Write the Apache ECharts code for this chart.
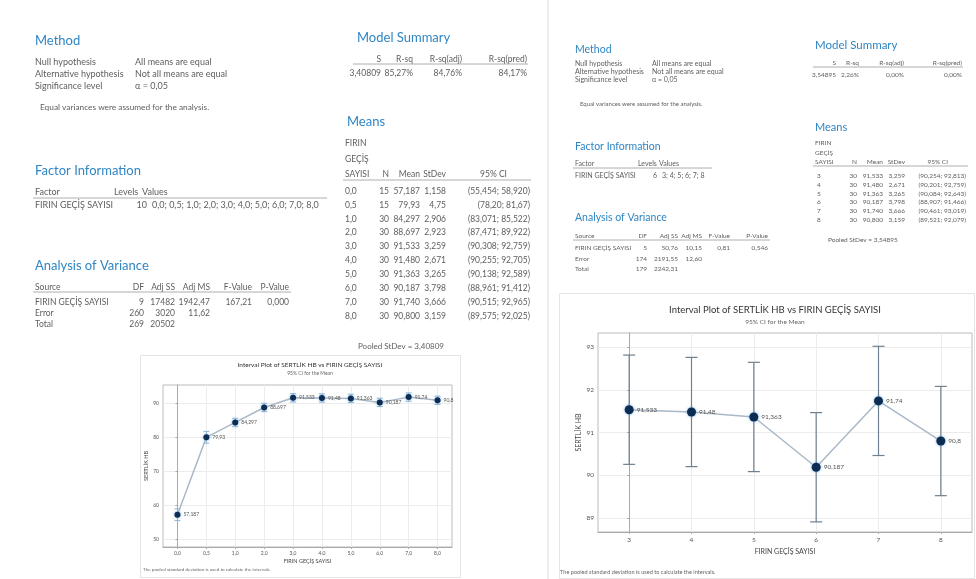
<!DOCTYPE html>
<html>

<head>
  <meta charset="utf-8">
  <title>SERTLİK HB vs FIRIN GEÇİŞ SAYISI</title>
  <script src="https://cdn.jsdelivr.net/npm/echarts@6/dist/echarts.min.js"></script>
  <style>
    html, body { margin: 0; padding: 0; background: #fff; }
  </style>
</head>

<body>
  <div id="chart" style="width: 976px;height:579px;"></div>
  <script>
    // --- left analysis: all levels 0,0 .. 8,0
    const levelsA = ['0,0', '0,5', '1,0', '2,0', '3,0', '4,0', '5,0', '6,0', '7,0', '8,0'];
    const nA = [15, 15, 30, 30, 30, 30, 30, 30, 30, 30];
    const meanA = [57.187, 79.93, 84.297, 88.697, 91.533, 91.480, 91.363, 90.187, 91.740, 90.800];
    const sdA = [1.158, 4.75, 2.906, 2.923, 3.259, 2.671, 3.265, 3.798, 3.666, 3.159];
    const loA = [55.454, 78.20, 83.071, 87.471, 90.308, 90.255, 90.138, 88.961, 90.515, 89.575];
    const hiA = [58.920, 81.67, 85.522, 89.922, 92.759, 92.705, 92.589, 91.412, 92.965, 92.025];
    const yTicksA = [50, 60, 70, 80, 90];
    const anovaA = [
      ['FIRIN GEÇİŞ SAYISI', '9', '17482', '1942,47', '167,21', '0,000'],
      ['Error', '260', '3020', '11,62', '', ''],
      ['Total', '269', '20502', '', '', '']
    ];
    const summaryA = ['3,40809', '85,27%', '84,76%', '84,17%'];

    // --- right analysis: levels 3 .. 8
    const levelsB = ['3', '4', '5', '6', '7', '8'];
    const nB = [30, 30, 30, 30, 30, 30];
    const meanB = [91.533, 91.480, 91.363, 90.187, 91.740, 90.800];
    const sdB = [3.259, 2.671, 3.265, 3.798, 3.666, 3.159];
    const loB = [90.254, 90.201, 90.084, 88.907, 90.461, 89.521];
    const hiB = [92.813, 92.759, 92.643, 91.466, 93.019, 92.079];
    const yTicksB = [89, 90, 91, 92, 93];
    const anovaB = [
      ['FIRIN GEÇİŞ SAYISI', '5', '50,76', '10,15', '0,81', '0,546'],
      ['Error', '174', '2191,55', '12,60', '', ''],
      ['Total', '179', '2242,31', '', '', '']
    ];
    const summaryB = ['3,54895', '2,26%', '0,00%', '0,00%'];

    const F = "Lato, 'Noto Sans', sans-serif";
    const TITLE = '#2f86c4', BODY = '#5e5e5e', RULE = '#9a9a9a';
    const fmt3 = v => v.toFixed(3).replace('.', ',');
    const fmtL = v => String(v).replace('.', ',');
    const fmtCI = (lo, hi, d) => '(' + lo.toFixed(d).replace('.', ',') + '; ' + hi.toFixed(d).replace('.', ',') + ')';

    let g = [];
    function txt(x, y, s, size, opt) {
      opt = opt || {};
      g.push({
        type: 'text', x: x, y: y, silent: true,
        style: {
          text: s, font: (opt.weight || 'normal') + ' ' + size + 'px ' + F, fill: opt.color || BODY,
          align: opt.align || 'left', textAlign: opt.align || 'left',
          verticalAlign: 'middle', textVerticalAlign: 'middle'
        }
      });
    }
    function hline(x1, x2, y, c) {
      g.push({ type: 'line', silent: true, shape: { x1: x1, y1: y, x2: x2, y2: y }, style: { stroke: c || RULE, lineWidth: 0.8 } });
    }
    function box(x, y, w, h, c) {
      g.push({ type: 'rect', silent: true, shape: { x: x, y: y, width: w, height: h }, style: { fill: 'none', stroke: c, lineWidth: 1 } });
    }

    // divider between the two sessions
    g.push({ type: 'line', silent: true, shape: { x1: 548, y1: 0, x2: 548, y2: 579 }, style: { stroke: '#dcdcdc', lineWidth: 1 } });

    // ================= LEFT TEXT =================
    let fs = 9, ft = 13;
    txt(35, 41, 'Method', ft, { color: TITLE });
    txt(35, 62, 'Null hypothesis', fs); txt(135, 62, 'All means are equal', fs);
    txt(35, 74, 'Alternative hypothesis', fs); txt(135, 74, 'Not all means are equal', fs);
    txt(35, 86, 'Significance level', fs); txt(135, 86, 'α = 0,05', fs);
    txt(40, 107, 'Equal variances were assumed for the analysis.', 8.3);

    txt(35, 171, 'Factor Information', ft, { color: TITLE });
    txt(35, 192, 'Factor', fs); txt(114, 192, 'Levels', fs); txt(142, 192, 'Values', fs);
    hline(33, 327, 198);
    txt(35, 205, 'FIRIN GEÇİŞ SAYISI', fs); txt(147, 205, String(levelsA.length), fs, { align: 'right' });
    txt(152, 205, levelsA.join('; '), fs);

    fs = 8.5;
    txt(35, 266, 'Analysis of Variance', ft, { color: TITLE });
    const colA = [144, 175, 210, 252, 289];
    const headA = ['DF', 'Adj SS', 'Adj MS', 'F-Value', 'P-Value'];
    txt(35, 287, 'Source', fs);
    headA.forEach((h, i) => txt(colA[i], 287, h, fs, { align: 'right' }));
    hline(33, 291, 292);
    anovaA.forEach((r, j) => {
      txt(35, 302 + j * 11, r[0], fs);
      for (let i = 1; i < r.length; i++) txt(colA[i - 1], 302 + j * 11, r[i], fs, { align: 'right' });
    });

    txt(357, 38, 'Model Summary', ft, { color: TITLE });
    const colS = [381, 413, 462, 527];
    ['S', 'R-sq', 'R-sq(adj)', 'R-sq(pred)'].forEach((h, i) => txt(colS[i], 59, h, fs, { align: 'right' }));
    hline(353, 528, 64);
    summaryA.forEach((v, i) => txt(colS[i], 73, v, fs, { align: 'right' }));

    txt(347, 122, 'Means', ft, { color: TITLE });
    txt(345, 143, 'FIRIN', fs); txt(345, 159, 'GEÇİŞ', fs); txt(345, 174, 'SAYISI', fs);
    const colM = [389, 420, 446, 530];
    txt(colM[0], 174, 'N', fs, { align: 'right' });
    txt(colM[1], 174, 'Mean', fs, { align: 'right' });
    txt(colM[2], 174, 'StDev', fs, { align: 'right' });
    txt(507, 174, '95% CI', fs, { align: 'right' });
    hline(343, 531, 180);
    levelsA.forEach((lv, i) => {
      const y = 191 + i * 13.9;
      const d = (i === 1) ? 2 : 3;
      txt(345, y, lv, fs);
      txt(colM[0], y, String(nA[i]), fs, { align: 'right' });
      txt(colM[1], y, meanA[i].toFixed(d).replace('.', ','), fs, { align: 'right' });
      txt(colM[2], y, sdA[i].toFixed(d).replace('.', ','), fs, { align: 'right' });
      txt(colM[3], y, fmtCI(loA[i], hiA[i], d), fs, { align: 'right' });
    });
    txt(358, 346, 'Pooled StDev = ' + summaryA[0], 8);

    // ================= RIGHT TEXT =================
    fs = 7;
    const tf = 10.5;
    txt(575, 50, 'Method', tf, { color: TITLE });
    txt(575, 64, 'Null hypothesis', fs); txt(652, 64, 'All means are equal', fs);
    txt(575, 72, 'Alternative hypothesis', fs); txt(652, 72, 'Not all means are equal', fs);
    txt(575, 80, 'Significance level', fs); txt(652, 80, 'α = 0,05', fs);
    txt(580, 104, 'Equal variances were assumed for the analysis.', 6);

    txt(575, 147, 'Factor Information', tf, { color: TITLE });
    txt(575, 164, 'Factor', fs); txt(638, 164, 'Levels', fs); txt(659, 164, 'Values', fs);
    hline(573, 712, 168);
    txt(575, 176, 'FIRIN GEÇİŞ SAYISI', fs); txt(657, 176, String(levelsB.length), fs, { align: 'right' });
    txt(662, 176, levelsB.join('; '), fs);

    fs = 6.5;
    txt(575, 218, 'Analysis of Variance', tf, { color: TITLE });
    const colB = [647, 678, 702, 730, 768];
    txt(575, 236, 'Source', fs);
    headA.forEach((h, i) => txt(colB[i], 236, h, fs, { align: 'right' }));
    hline(573, 770, 240);
    anovaB.forEach((r, j) => {
      txt(575, 248 + j * 10.5, r[0], fs);
      for (let i = 1; i < r.length; i++) txt(colB[i - 1], 248 + j * 10.5, r[i], fs, { align: 'right' });
    });

    txt(815, 45, 'Model Summary', 11.5, { color: TITLE });
    const colSB = [836, 859, 904, 962];
    ['S', 'R-sq', 'R-sq(adj)', 'R-sq(pred)'].forEach((h, i) => txt(colSB[i], 63, h, fs, { align: 'right' }));
    hline(813, 963, 67);
    summaryB.forEach((v, i) => txt(colSB[i], 74.5, v, fs, { align: 'right' }));

    txt(815, 127, 'Means', 11, { color: TITLE });
    txt(815, 143, 'FIRIN', fs); txt(815, 153, 'GEÇİŞ', fs); txt(815, 162, 'SAYISI', fs);
    const colMB = [857, 883, 905, 966];
    txt(colMB[0], 162, 'N', fs, { align: 'right' });
    txt(colMB[1], 162, 'Mean', fs, { align: 'right' });
    txt(colMB[2], 162, 'StDev', fs, { align: 'right' });
    txt(948, 162, '95% CI', fs, { align: 'right' });
    hline(813, 968, 166);
    levelsB.forEach((lv, i) => {
      const y = 176 + i * 8.8;
      txt(817, y, lv, fs);
      txt(colMB[0], y, String(nB[i]), fs, { align: 'right' });
      txt(colMB[1], y, fmt3(meanB[i]), fs, { align: 'right' });
      txt(colMB[2], y, fmt3(sdB[i]), fs, { align: 'right' });
      txt(colMB[3], y, fmtCI(loB[i], hiB[i], 3), fs, { align: 'right' });
    });
    txt(828, 240, 'Pooled StDev = ' + summaryB[0], 6.5);

    // ================= CHART DECORATION =================
    box(140.5, 355.5, 320, 222, '#e4e4e4');
    box(559.5, 293.5, 415, 285, '#e4e4e4');
    txt(310, 365, 'Interval Plot of SERTLİK HB vs FIRIN GEÇİŞ SAYISI', 6.5, { align: 'center', color: '#333' });
    txt(310, 373, '95% CI for the Mean', 5, { align: 'center', color: '#666' });
    txt(143, 570, 'The pooled standard deviation is used to calculate the intervals.', 4.6, { color: '#666' });
    txt(775, 310, 'Interval Plot of SERTLİK HB vs FIRIN GEÇİŞ SAYISI', 9.5, { align: 'center', color: '#333' });
    txt(775, 322, '95% CI for the Mean', 6.5, { align: 'center', color: '#666' });
    txt(560, 572, 'The pooled standard deviation is used to calculate the intervals.', 5.6, { color: '#666' });

    function errorSeries(xi, lo, hi, color, cap, lw) {
      return {
        type: 'custom', xAxisIndex: xi, yAxisIndex: xi, z: 2, silent: true,
        encode: { x: 0, y: [1, 2] },
        data: lo.map((v, i) => [i, v, hi[i]]),
        renderItem: function (params, api) {
          const p1 = api.coord([api.value(0), api.value(1)]);
          const p2 = api.coord([api.value(0), api.value(2)]);
          const st = { stroke: color, lineWidth: lw };
          return {
            type: 'group', children: [
              { type: 'line', shape: { x1: p1[0], y1: p1[1], x2: p2[0], y2: p2[1] }, style: st },
              { type: 'line', shape: { x1: p1[0] - cap, y1: p1[1], x2: p1[0] + cap, y2: p1[1] }, style: st },
              { type: 'line', shape: { x1: p2[0] - cap, y1: p2[1], x2: p2[0] + cap, y2: p2[1] }, style: st }
            ]
          };
        }
      };
    }
    function meanSeries(xi, means, size, fsz) {
      return {
        type: 'line', xAxisIndex: xi, yAxisIndex: xi, z: 3, silent: true,
        data: means.map((v, i) => [i, v]),
        symbol: 'circle', symbolSize: size,
        itemStyle: { color: '#0d2c52', shadowBlur: 3, shadowColor: 'rgba(90,160,230,0.8)' },
        lineStyle: { color: '#a9b8c8', width: 1.5 },
        label: {
          show: true, position: 'right', distance: 3, fontSize: fsz, fontFamily: F, color: '#555',
          formatter: p => fmtL(means[p.dataIndex])
        }
      };
    }
    function xAxisFor(gi, labels, fsz, gap) {
      const idx = labels.map((l, i) => i);
      return {
        type: 'value', gridIndex: gi, min: -0.5, max: labels.length - 0.5,
        name: 'FIRIN GEÇİŞ SAYISI', nameLocation: 'middle', nameGap: gap,
        nameTextStyle: { fontSize: fsz + 0.5, fontFamily: F, color: '#444' },
        axisLine: { show: true, lineStyle: { color: '#aaa' } },
        axisTick: { show: true, customValues: idx, length: 2, lineStyle: { color: '#aaa' } },
        axisLabel: { customValues: idx, fontSize: fsz, fontFamily: F, color: '#555', margin: 4, formatter: v => labels[v] },
        splitLine: { show: true, lineStyle: { color: '#ececec' } }
      };
    }
    function yAxisFor(gi, ticks, min, max, fsz, gap) {
      return {
        type: 'value', gridIndex: gi, min: min, max: max,
        name: 'SERTLİK HB', nameLocation: 'middle', nameGap: gap, nameRotate: 90,
        nameTextStyle: { fontSize: fsz + 0.5, fontFamily: F, color: '#444' },
        axisLine: { show: true, lineStyle: { color: '#aaa' } },
        axisTick: { show: true, customValues: ticks, length: 2, lineStyle: { color: '#aaa' } },
        axisLabel: { customValues: ticks, fontSize: fsz, fontFamily: F, color: '#555', margin: 4 },
        splitLine: { show: true, lineStyle: { color: '#ececec' } }
      };
    }

    let myChart = echarts.init(document.getElementById('chart'));
    let option = {
      backgroundColor: '#fff',
      animation: false,
      grid: [
        { left: 163, top: 385, width: 289, height: 162, show: true, borderColor: '#bbb', borderWidth: 1 },
        { left: 598, top: 333, width: 374, height: 199, show: true, borderColor: '#bbb', borderWidth: 1 }
      ],
      xAxis: [xAxisFor(0, levelsA, 5, 11), xAxisFor(1, levelsB, 6.5, 16)],
      yAxis: [yAxisFor(0, yTicksA, 47.7, 95.3, 5, 14), yAxisFor(1, yTicksB, 88.67, 93.33, 6.5, 16)],
      series: [
        errorSeries(0, loA, hiA, '#8fb7d8', 3, 1),
        meanSeries(0, meanA, 6, 5),
        errorSeries(1, loB, hiB, '#6f8090', 6, 1.2),
        meanSeries(1, meanB, 9, 6.5)
      ],
      graphic: g
    };
    myChart.setOption(option);
  </script>

</body>

</html>
